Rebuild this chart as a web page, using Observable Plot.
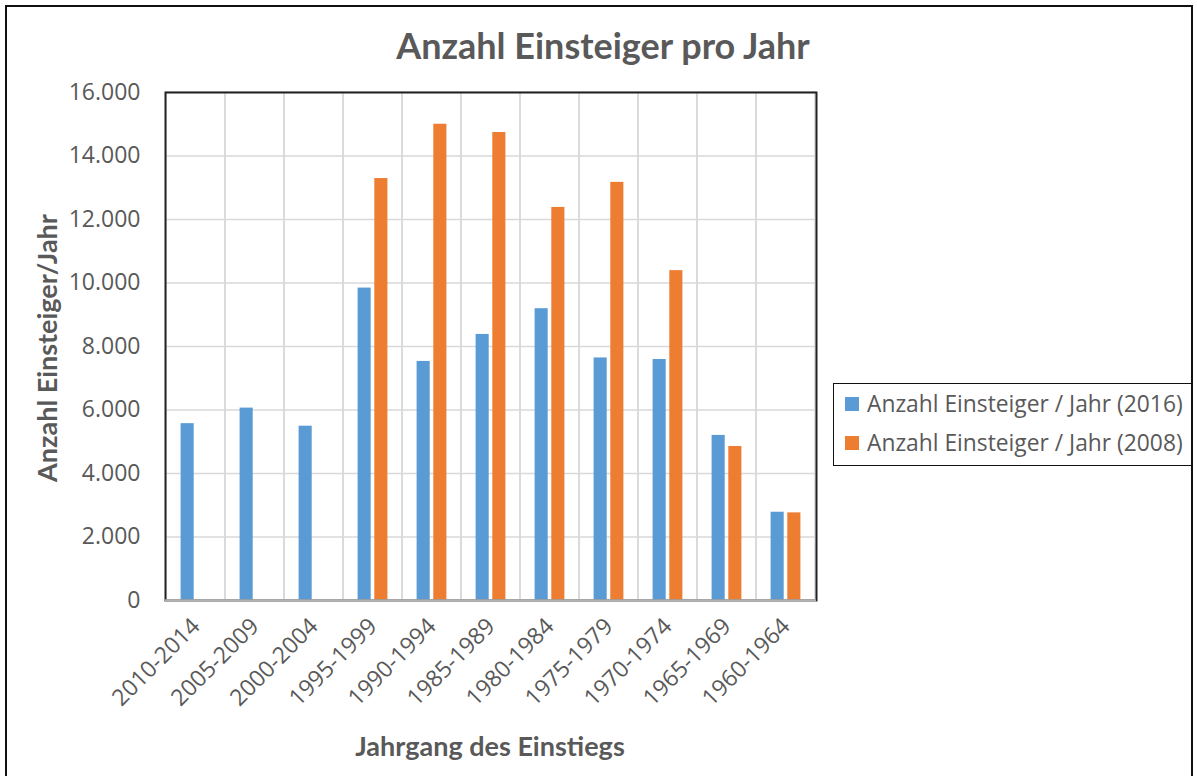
<!DOCTYPE html>
<html><head><meta charset="utf-8">
<script src="https://cdn.jsdelivr.net/npm/d3@7"></script>
<script src="https://cdn.jsdelivr.net/npm/@observablehq/plot@0.6"></script>
<style>
body{margin:0;overflow:hidden;background:#fff;}
#wrap{position:relative;width:1197px;height:776px;overflow:hidden;font-family:"Open Sans",sans-serif;color:#595959;background:#fff;}
#border{position:absolute;left:5px;top:5px;width:1188px;height:820px;border:2px solid #111;box-sizing:border-box;}
#chart{position:absolute;left:0;top:0;}
#title{position:absolute;left:603px;top:45px;transform:translate(-50%,-50%);font-family:Lato,sans-serif;font-weight:bold;font-size:36px;line-height:36px;white-space:nowrap;}
#ylabel{position:absolute;left:46px;top:348px;transform:translate(-50%,-50%) rotate(-90deg);font-family:Lato,sans-serif;font-weight:bold;font-size:27px;white-space:nowrap;line-height:27px;}
#xlabel{position:absolute;left:490px;top:745px;transform:translate(-50%,-50%);font-family:Lato,sans-serif;font-weight:bold;font-size:27px;white-space:nowrap;line-height:27px;}
#legend{position:absolute;left:833px;top:383px;width:360px;height:83px;border:1.5px solid #111;box-sizing:border-box;font-size:22.8px;}
.item{position:absolute;left:11px;display:flex;align-items:center;white-space:nowrap;line-height:26px;}
.sw{width:14px;height:14px;margin-right:8px;}
</style></head>
<body>
<div id="wrap">
  <div id="border"></div>
  <div id="chart"></div>
  <div id="title">Anzahl Einsteiger pro Jahr</div>
  <div id="ylabel">Anzahl Einsteiger/Jahr</div>
  <div id="xlabel">Jahrgang des Einstiegs</div>
  <div id="legend"></div>
</div>
<script>
const categories = ["2010-2014","2005-2009","2000-2004","1995-1999","1990-1994","1985-1989","1980-1984","1975-1979","1970-1974","1965-1969","1960-1964"];
const values2016 = [5570,6060,5490,9840,7530,8380,9190,7640,7590,5200,2780];
const values2008 = [0,0,0,13290,15000,14740,12380,13170,10390,4850,2760];
const seriesNames = ["Anzahl Einsteiger / Jahr (2016)","Anzahl Einsteiger / Jahr (2008)"];
const seriesColors = ["#5b9bd5","#ed7d31"];
const yTicks = [0,2000,4000,6000,8000,10000,12000,14000,16000];
const yTickLabels = ["0","2.000","4.000","6.000","8.000","10.000","12.000","14.000","16.000"];

const data2016 = categories.map((c,i)=>({cat:c, value:values2016[i]}));
const data2008 = categories.map((c,i)=>({cat:c, value:values2008[i]}));

const chart = Plot.plot({
  width:1197, height:776,
  marginLeft:165, marginRight:381, marginTop:92, marginBottom:176,
  style:{fontFamily:"'Open Sans',sans-serif", fontSize:"23px", color:"#595959", background:"transparent", overflow:"visible"},
  x:{domain:categories, padding:0, label:null, tickSize:0, tickPadding:22, tickRotate:-45},
  y:{domain:[0,16000], ticks:yTicks, tickFormat:(d)=>yTickLabels[yTicks.indexOf(d)], tickSize:0, tickPadding:25, label:null},
  marks:[
    Plot.ruleY(yTicks, {stroke:"#d9d9d9", strokeWidth:1.5}),
    Plot.barY(categories, {x:d=>d, y1:0, y2:16000, fill:"none", stroke:"#d9d9d9", strokeWidth:1.5}),
    Plot.barY(data2016, {x:"cat", y:"value", fill:seriesColors[0], insetLeft:14.6, insetRight:31.3}),
    Plot.barY(data2008, {x:"cat", y:"value", fill:seriesColors[1], insetLeft:31.3, insetRight:14.6}),
    Plot.frame({stroke:"#222", strokeWidth:2}),
    Plot.ruleY([0], {stroke:"#b3b3b3", strokeWidth:2.5})
  ]
});
document.getElementById("chart").appendChild(chart);

const legend = document.getElementById("legend");
seriesNames.forEach((n,i)=>{
  const it = document.createElement("div");
  it.className="item";
  it.style.top = (i===0 ? 7 : 46) + "px";
  it.innerHTML = `<div class="sw" style="background:${seriesColors[i]}"></div><span>${n}</span>`;
  legend.appendChild(it);
});
</script>
</body></html>
